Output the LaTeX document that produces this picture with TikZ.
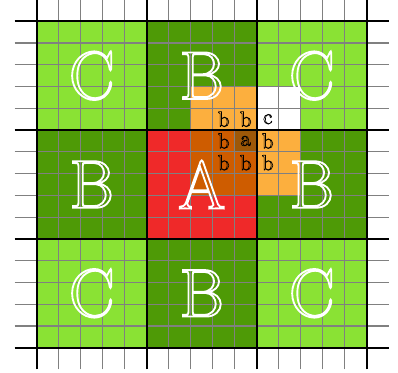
\documentclass[tikz,border=0pt]{standalone}
\usepackage{xcolor}
\usepackage{tikz}
\usetikzlibrary{positioning}
\definecolor{cgreen}{RGB}{138,226,52}
\definecolor{bgreen}{RGB}{78,154,6}
\definecolor{ared}{RGB}{239,41,41}
\definecolor{nborange}{RGB}{252,175,62}
\definecolor{nbdark}{RGB}{206,92,0}
\definecolor{nbcentre}{RGB}{158,88,8}
\definecolor{gridgray}{RGB}{128,128,128}
% stroked (hollow) letters: #1 stroke colour as pdf operands, #2 width in bp
\newcommand{\hollow}[3]{\special{pdf:code q #1 RG #2 w 1 Tr}#3\special{pdf:code 0 Tr Q}}
\tikzset{
  bigletter/.style={font=\fontsize{44}{44}\selectfont, inner sep=0pt},
  smallletter/.style={font=\fontsize{14}{14}\selectfont, inner sep=0pt},
  thinline/.style={gridgray, line width=0.8pt},
  thickline/.style={black, line width=1.3pt}
}

\begin{document}
\begin{tikzpicture}[x=0.5cm, y=0.4945cm]
  \useasboundingbox (-1.668,-1.117) rectangle (16.42,15.979);

  % Blocks
  \foreach \i/\j/\col in {0/0/cgreen, 1/0/bgreen, 2/0/cgreen,
                          0/1/bgreen, 1/1/ared,   2/1/bgreen,
                          0/2/cgreen, 1/2/bgreen, 2/2/cgreen}
    \fill[\col] (5*\i,10-5*\j) rectangle (5*\i+5,15-5*\j);

  % Neighbourhood of the centre cell
  \fill[nborange] (7,7) rectangle (12,12);
  \fill[nbdark] (7,7) rectangle (10,10);
  \fill[white] (10,10) rectangle (12,12);
  \fill[nbcentre] (9,9) rectangle (10,10);

  % Grid
  \foreach \k in {1,2,3,4,6,7,8,9,11,12,13,14} {
    \draw[thinline] (-1,\k) -- (16,\k);
    \draw[thinline] (\k,-1) -- (\k,16);
  }
  \foreach \k in {0,5,10,15} {
    \draw[thickline] (-1,\k) -- (16,\k);
    \draw[thickline] (\k,-1) -- (\k,16);
  }

  % Block letters
  \node[bigletter] (tl) at (2.5,12.5) {\hollow{1 1 1}{1.2}{C}};
  \node[bigletter] (tc) at (7.5,12.5) {\hollow{1 1 1}{1.2}{B}};
  \node[bigletter] (tr) at (12.5,12.5) {\hollow{1 1 1}{1.2}{C}};
  \node[bigletter] (ml) at (2.5,7.5) {\hollow{1 1 1}{1.2}{B}};
  \node[bigletter] (mc) at (7.5,7.5) {\hollow{1 1 1}{1.2}{A}};
  \node[bigletter] (mr) at (12.5,7.5) {\hollow{1 1 1}{1.2}{B}};
  \node[bigletter] (bl) at (2.5,2.5) {\hollow{1 1 1}{1.2}{C}};
  \node[bigletter] (bc) at (7.5,2.5) {\hollow{1 1 1}{1.2}{B}};
  \node[bigletter] (br) at (12.5,2.5) {\hollow{1 1 1}{1.2}{C}};

  % Cell letters
  \node[smallletter] (nw) at (8.5,10.5) {\hollow{0 0 0}{0.4}{b}};
  \node[smallletter] (nn) at (9.5,10.5) {\hollow{0 0 0}{0.4}{b}};
  \node[smallletter] (ne) at (10.5,10.5) {\hollow{0 0 0}{0.4}{c}};
  \node[smallletter] (ww) at (8.5,9.5) {\hollow{0 0 0}{0.4}{b}};
  \node[smallletter] (cc) at (9.5,9.5) {\hollow{0 0 0}{0.4}{a}};
  \node[smallletter] (ee) at (10.5,9.5) {\hollow{0 0 0}{0.4}{b}};
  \node[smallletter] (sw) at (8.5,8.5) {\hollow{0 0 0}{0.4}{b}};
  \node[smallletter] (ss) at (9.5,8.5) {\hollow{0 0 0}{0.4}{b}};
  \node[smallletter] (se) at (10.5,8.5) {\hollow{0 0 0}{0.4}{b}};
\end{tikzpicture}
\end{document}
